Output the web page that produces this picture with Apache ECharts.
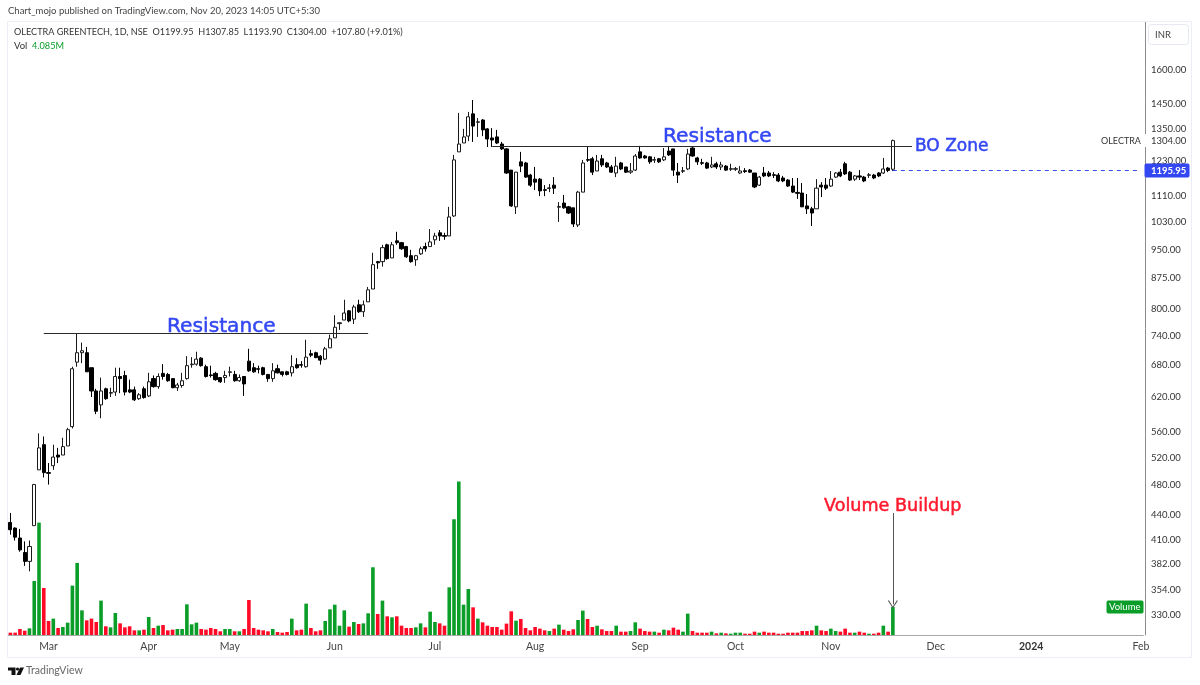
<!DOCTYPE html>
<html>
<head>
    <meta charset="UTF-8">
    <title>OLECTRA GREENTECH</title>
    <style type="text/css">
        html, body { margin:0; padding:0; background:#fff; }
        #main1 { width:1200px; height:685px; }
    </style>
</head>
<body>
<div id="main1"></div>
<script type="text/javascript" src="https://cdn.jsdelivr.net/npm/echarts@6/dist/echarts.min.js"></script>
<script type="text/javascript">
    // daily candles (oldest first)
    var opens = [
        431,424,412,395,385,427,502,540,498,508,
        524,524,538,569,686,705,705,675,631,606,
        635,627,629,658,660,633,633,617,635,622,
        654,639,664,662,654,637,641,654,681,682,
        694,677,661,664,656,656,666,662,650,658,
        688,675,673,675,662,654,673,667,667,665,
        681,681,677,703,705,698,692,715,736,767,
        775,796,777,810,794,817,848,918,918,964,
        928,975,970,959,934,923,939,959,959,978,
        998,990,989,1048,1262,1295,1321,1409,1375,1384,
        1349,1314,1318,1291,1273,1197,1076,1226,1222,1180,
        1166,1166,1131,1135,1146,1075,1088,1076,1073,1021,
        1123,1234,1237,1194,1237,1222,1208,1187,1222,1208,
        1190,1197,1262,1247,1244,1232,1237,1233,1265,1273,
        1190,1193,1201,1276,1240,1223,1222,1208,1219,1208,
        1211,1200,1200,1187,1195,1197,1187,1146,1187,1187,
        1181,1180,1170,1163,1143,1122,1120,1079,1070,1070,
        1146,1146,1143,1173,1190,1219,1190,1166,1177,1173,
        1179,1180,1187,1187,1204,1199.95
    ];
    var closes = [
        422,413,398,385,402,481,535,498,497,521,
        521,537,564,673,705,709,667,631,595,631,
        617,628,658,654,629,629,615,624,619,648,
        639,658,658,650,637,642,650,679,682,692,
        679,658,660,652,648,660,667,650,656,644,
        669,667,672,662,654,669,665,662,662,677,
        675,680,696,700,695,690,713,734,759,769,
        791,773,805,794,810,846,910,915,956,926,
        964,970,953,931,918,934,953,953,972,989,
        989,988,1045,1233,1291,1318,1397,1360,1377,1345,
        1310,1306,1295,1273,1187,1079,1190,1211,1173,1146,
        1156,1127,1129,1137,1136,1077,1073,1057,1024,1123,
        1222,1232,1190,1229,1215,1208,1190,1211,1201,1190,
        1194,1247,1240,1240,1226,1234,1226,1244,1251,1197,
        1180,1195,1254,1247,1226,1221,1204,1215,1208,1215,
        1197,1202,1202,1194,1192,1190,1140,1173,1177,1177,
        1179,1160,1160,1143,1123,1119,1076,1070,1057,1136,
        1140,1136,1166,1187,1177,1184,1163,1177,1173,1160,
        1181,1170,1177,1201,1195.95,1304
    ];
    var highs = [
        443,425,423,408,409,482,558,553,512,540,
        535,551,567,677,745,726,717,675,635,656,
        637,637,675,675,669,652,639,627,639,665,
        660,664,682,665,655,646,665,698,696,707,
        696,681,679,667,656,669,677,669,662,658,
        713,684,679,677,662,684,681,667,669,700,
        694,688,732,711,707,700,717,743,786,770,
        822,798,810,822,820,853,942,920,964,967,
        972,1001,972,961,950,936,959,970,1009,998,
        1006,998,1076,1251,1413,1349,1417,1467,1392,1388,
        1352,1352,1345,1299,1276,1197,1190,1262,1226,1184,
        1208,1170,1146,1150,1173,1091,1114,1079,1073,1127,
        1233,1280,1244,1251,1251,1226,1215,1244,1226,1208,
        1222,1254,1284,1251,1247,1244,1240,1276,1284,1273,
        1222,1208,1273,1280,1244,1237,1226,1244,1226,1226,
        1215,1219,1208,1211,1204,1201,1187,1177,1208,1194,
        1190,1187,1177,1166,1170,1170,1153,1117,1076,1166,
        1156,1170,1194,1190,1201,1226,1194,1180,1197,1177,
        1187,1184,1190,1240,1208,1307.85
    ];
    var lows = [
        416,409,396,380,374,427,502,491,481,502,
        512,524,538,566,677,684,667,620,590,583,
        615,620,622,627,623,627,613,615,617,620,
        637,635,652,648,636,631,637,652,675,679,
        677,656,656,650,646,646,658,648,648,622,
        667,665,664,660,648,648,664,658,660,658,
        673,675,675,696,694,681,690,715,736,753,
        775,770,766,791,782,817,848,899,905,923,
        928,964,950,928,915,907,936,945,959,964,
        975,978,989,1045,1262,1295,1302,1299,1318,1321,
        1280,1280,1291,1269,1184,1076,1054,1190,1170,1140,
        1130,1110,1110,1123,1117,1030,1070,1054,1015,1015,
        1123,1226,1180,1194,1208,1204,1187,1173,1197,1187,
        1184,1194,1237,1237,1219,1222,1222,1229,1247,1177,
        1153,1187,1197,1244,1215,1215,1201,1204,1201,1197,
        1194,1194,1194,1184,1187,1187,1136,1143,1173,1173,
        1170,1156,1156,1140,1120,1101,1076,1054,1018,1070,
        1107,1130,1140,1170,1173,1180,1160,1160,1163,1156,
        1170,1166,1173,1184,1190,1193.9
    ];
    // volume in millions
    var volumes = [
        .34,.34,.88,.63,.97,7.89,16.41,6.87,2.05,2.39,
        1.02,1.17,1.80,7.21,10.52,3.60,2.14,2.39,1.90,5.02,
        1.27,1.12,3.21,1.70,1.12,1.27,.68,.68,.78,2.63,
        1.02,1.36,1.46,.68,.78,.88,.88,4.48,1.56,1.80,
        .88,.78,1.02,.88,.54,.88,.88,.54,.54,.88,
        5.11,1.02,.78,.68,.54,.88,.44,.34,.44,2.39,
        .68,.78,4.58,1.02,.54,.68,2.05,3.75,4.43,1.36,
        3.60,1.22,1.90,1.61,1.70,3.17,9.89,3.07,5.02,2.73,
        2.58,2.73,1.36,1.02,1.02,1.12,1.70,1.12,3.41,1.90,
        1.70,1.36,6.96,16.90,22.40,4.43,6.72,4.04,2.39,1.85,
        1.36,1.17,1.17,.78,1.66,3.46,2.09,2.34,1.02,.68,
        1.17,.93,.68,.58,.93,1.51,.78,.58,.83,2.19,
        3.56,2.34,1.17,1.36,.83,.58,.58,1.36,.49,.49,
        .58,1.85,.93,.58,.49,.49,.34,.78,.68,1.07,
        .78,.49,3.12,.58,.34,.34,.34,.49,.24,.34,
        .24,.19,.34,.34,.19,.19,.49,.34,.49,.34,
        .34,.19,.19,.34,.34,.34,.58,.58,.68,1.36,
        .68,.58,.93,.58,.49,.93,.34,.34,.49,.34,
        .19,.19,.34,1.36,.49,4.085
    ];

    var priceTicks = [330,354,382,410,440,480,520,560,620,680,740,800,875,950,1030,1110,1230,1304,1350,1450,1600];
    var monthNames = ['Mar','Apr','May','Jun','Jul','Aug','Sep','Oct','Nov','Dec','2024','Feb'];
    var monthSlots = [8,29,46,68,89,110,132,152,172,194,214,237];
    var slotCount = 238;

    var resistance1 = 745, resistance2 = 1284, lastClose = 1195.95;

    var categories = [];
    for (var i = 0; i < slotCount; i++) {
        var k = monthSlots.indexOf(i);
        categories.push(k >= 0 ? monthNames[k] : '');
    }

    var candleData = [], volumeData = [];
    for (var j = 0; j < opens.length; j++) {
        candleData.push([opens[j], closes[j], lows[j], highs[j]]);
        volumeData.push({
            value: volumes[j],
            itemStyle: { color: closes[j] >= opens[j] ? '#0a9e28' : '#ff0a26' }
        });
    }

    var uiFont = 'Lato, sans-serif';
    var noteFont = '"DejaVu Sans", sans-serif';

    function label(x, y, text, size, color, weight, font) {
        return {
            type: 'text', z: 50, x: x, y: y,
            style: {
                text: text, fill: color, verticalAlign: 'middle',
                font: (weight || 'normal') + ' ' + size + 'px ' + (font || uiFont)
            }
        };
    }
    // annotation text, a little heavier than the regular face
    function note(x, y, text, size, color) {
        var t = label(x, y, text, size, color, 'normal', noteFont);
        t.style.stroke = color;
        t.style.lineWidth = 0.5;
        return t;
    }
    function box(x, y, w, h, fill, stroke, r) {
        return {
            type: 'rect', z: 40, shape: { x: x, y: y, width: w, height: h, r: r || 0 },
            style: { fill: fill || 'transparent', stroke: stroke || 'transparent', lineWidth: 1 }
        };
    }

    var myChart1 = echarts.init(document.getElementById('main1'));
    var option1 = {
        animation: false,
        backgroundColor: '#fff',
        grid: { left: 8, top: 22, width: 1135.3, height: 613, containLabel: false },
        xAxis: {
            type: 'category',
            data: categories,
            boundaryGap: true,
            axisLine: { lineStyle: { color: '#a8a8a8', width: 1 } },
            axisTick: { show: false },
            splitLine: { show: false },
            axisLabel: {
                interval: function (index, value) { return value !== ''; },
                color: '#444', fontFamily: uiFont, fontSize: 10.5, margin: 6,
                formatter: function (value) { return value === '2024' ? '{b|2024}' : value; },
                rich: { b: { fontWeight: 'bold', color: '#333', fontFamily: uiFont, fontSize: 10.5 } }
            }
        },
        yAxis: [{
            type: 'log',
            position: 'right',
            offset: 1.7,
            min: 311,
            max: 1839,
            axisLine: { show: true, lineStyle: { color: '#8c8c8c', width: 1 } },
            axisTick: { show: false },
            splitLine: { show: false },
            minorTick: { show: false },
            axisLabel: {
                customValues: priceTicks,
                color: '#333', fontFamily: uiFont, fontSize: 9.5, margin: 6,
                padding: [2, 0, 0, 0],
                formatter: function (value) { return Number(value).toFixed(2); }
            }
        }, {
            type: 'value',
            min: 0,
            max: 89.5,
            show: false
        }],
        series: [{
            name: 'Volume',
            type: 'bar',
            yAxisIndex: 1,
            barWidth: 3.6,
            z: 1,
            data: volumeData
        }, {
            name: 'OLECTRA',
            type: 'candlestick',
            yAxisIndex: 0,
            barWidth: 3.6,
            z: 3,
            itemStyle: {
                color: '#ffffff', color0: '#000000',
                borderColor: '#1a1a1a', borderColor0: '#000000', borderWidth: 1
            },
            data: candleData,
            markLine: {
                silent: true,
                animation: false,
                symbol: ['none', 'none'],
                label: { show: false },
                lineStyle: { color: '#2b2b2b', type: 'solid', width: 1 },
                data: [
                    [{ coord: [7, resistance1] }, { coord: [75, resistance1] }],
                    [{ coord: [101, resistance2] }, { coord: [189, resistance2] }],
                    [{ coord: [185, lastClose], lineStyle: { color: '#3347f2', type: [4, 4], width: 1 } },
                     { coord: [237, lastClose] }],
                    [{ coord: [185, 443], lineStyle: { color: '#555', width: 1 } },
                     { coord: [185, 340], symbol: 'path://M0,10L5,0L10,10L9,10.8L5,2.4L1,10.8Z', symbolSize: [10, 8] }]
                ]
            }
        }],
        graphic: [
            // frame round the chart
            box(7.5, 21.5, 1184, 636, null, '#eceef5'),
            box(1148.5, 24.5, 40, 20, '#fff', '#e6e8f2', 3),
            box(1098, 134, 49, 13, '#fff'),
            box(1145, 164, 44, 13, '#3347f2', '#3347f2', 1),
            box(1107, 601, 36, 12, '#0a9e28', '#0a9e28', 1),

            label(8, 11, 'Chart_mojo published on TradingView.com, Nov 20, 2023 14:05 UTC+5:30', 9.5, '#444'),
            label(14, 32, 'OLECTRA GREENTECH, 1D, NSE  O1199.95  H1307.85  L1193.90  C1304.00  +107.80 (+9.01%)', 9.1, '#333'),
            label(14, 46, 'Vol', 9.5, '#333'),
            label(32, 46, '4.085M', 9.2, '#0a9e28'),

            label(1155, 35, 'INR', 9.5, '#444'),
            label(1101, 141, 'OLECTRA', 9, '#333'),
            label(1151, 171, '1195.95', 9.5, '#fff', 'bold'),
            label(1109, 607, 'Volume', 9.5, '#fff'),

            note(167, 327, 'Resistance', 20.2, '#3347f2'),
            note(663, 137, 'Resistance', 20.2, '#3347f2'),
            note(915, 147, 'BO Zone', 17, '#3347f2'),
            note(824, 506, 'Volume Buildup', 17.6, '#ff1a2e'),

            // TradingView mark
            { type: 'polygon', z: 40, shape: { points: [[8,667.5],[15.5,667.5],[15.5,675],[11.5,675],[11.5,670.5],[8,670.5]] }, style: { fill: '#111' } },
            { type: 'circle', z: 40, shape: { cx: 17.5, cy: 669, r: 1.6 }, style: { fill: '#111' } },
            { type: 'polygon', z: 40, shape: { points: [[20,667.5],[24,667.5],[20.5,675],[16.5,675]] }, style: { fill: '#111' } },
            label(26, 671, 'TradingView', 10.5, '#666')
        ]
    };
    myChart1.setOption(option1);
</script>
</body>
</html>
